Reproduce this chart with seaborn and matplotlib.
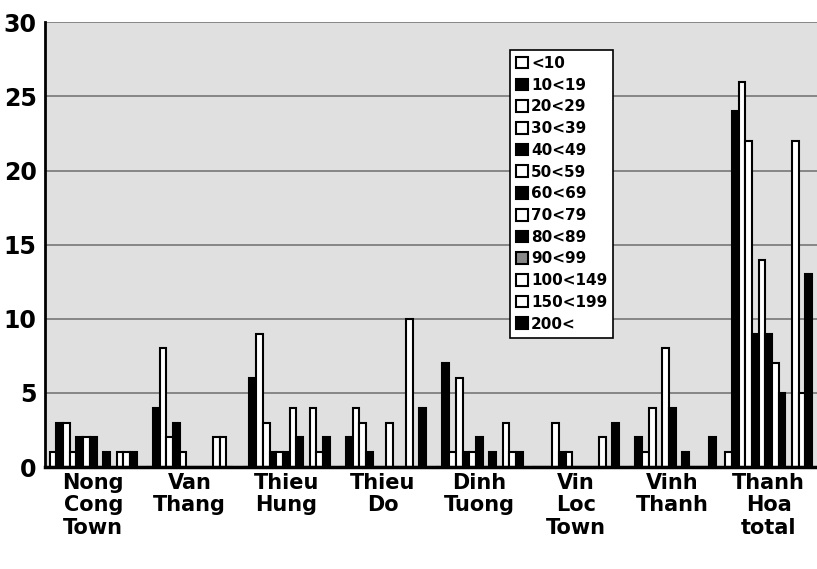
import numpy as np
import pandas as pd
import matplotlib
matplotlib.use("Agg")
import matplotlib.pyplot as plt
import seaborn as sns

places = ["Nong\nCong\nTown", "Van\nThang", "Thieu\nHung", "Thieu\nDo",
          "Dinh\nTuong", "Vin\nLoc\nTown", "Vinh\nThanh", "Thanh\nHoa\ntotal"]
sizes = ["<10", "10<19", "20<29", "30<39", "40<49", "50<59", "60<69",
         "70<79", "80<89", "90<99", "100<149", "150<199", "200<"]
fills = ["white", "black", "white", "white", "black", "white", "black",
         "white", "black", "#888888", "white", "white", "black"]

nong_cong = [1, 3, 3, 1, 2, 2, 2, 0, 1, 0, 1, 1, 1]
van_thang = [0, 4, 8, 2, 3, 1, 0, 0, 0, 0, 2, 2, 0]
thieu_hung = [0, 6, 9, 3, 1, 1, 1, 4, 2, 0, 4, 1, 2]
thieu_do = [0, 2, 4, 3, 1, 0, 0, 3, 0, 0, 10, 0, 4]
dinh_tuong = [0, 7, 1, 6, 1, 1, 2, 0, 1, 0, 3, 1, 1]
vin_loc = [0, 0, 0, 3, 1, 1, 0, 0, 0, 0, 2, 0, 3]
vinh_thanh = [0, 2, 1, 4, 0, 8, 4, 0, 1, 0, 0, 0, 2]
thanh_hoa = [1, 24, 26, 22, 9, 14, 9, 7, 5, 0, 22, 5, 13]

rows = [nong_cong, van_thang, thieu_hung, thieu_do,
        dinh_tuong, vin_loc, vinh_thanh, thanh_hoa]
df = pd.DataFrame(rows, index=places, columns=sizes)
long = df.reset_index().melt(id_vars="index", var_name="size", value_name="count")
long = long.rename(columns={"index": "place"})

sns.set_style("white")
plt.rcParams['font.family'] = ['DejaVu Sans']
plt.rcParams['text.color'] = 'black'
plt.rcParams['xtick.color'] = 'black'
plt.rcParams['ytick.color'] = 'black'

fig = plt.figure(figsize=(8.17, 5.69), dpi=100)
ax = fig.add_axes([0.055, 0.179, 0.945, 0.782])
ax.set_facecolor("#e0e0e0")

sns.barplot(data=long, x="place", y="count", hue="size", order=places,
            hue_order=sizes, palette=dict(zip(sizes, fills)),
            edgecolor="black", linewidth=1.5, width=0.9, ax=ax)

ax.set_ylim(0, 30)
ax.set_xlim(-0.5, 7.5)
ax.set_yticks([0, 5, 10, 15, 20, 25, 30])
ax.yaxis.grid(True, color="#777777", linewidth=1.2)
ax.set_axisbelow(True)
ax.set_xlabel("")
ax.set_ylabel("")
ax.tick_params(axis="y", labelsize=17, length=4, width=1.5, pad=2, colors="black")
ax.tick_params(axis="x", labelsize=15, length=0, pad=4, colors="black")
for lab in ax.get_xticklabels() + ax.get_yticklabels():
    lab.set_fontweight("bold")
for lab in ax.get_xticklabels():
    lab.set_verticalalignment("top")
    lab.set_linespacing(1.15)
for s in ["top", "right"]:
    ax.spines[s].set_visible(False)
ax.spines["left"].set_linewidth(2)
ax.spines["bottom"].set_linewidth(2.5)
ax.spines["left"].set_color("black")
ax.spines["bottom"].set_color("black")

leg = ax.legend(loc="upper left", bbox_to_anchor=(0.592, 0.955), frameon=True,
                fancybox=False, edgecolor="black", framealpha=1,
                prop={"weight": "bold", "size": 11}, handlelength=0.8,
                handleheight=0.8, handletextpad=0.2, labelspacing=0.44,
                borderpad=0.4)
leg.get_frame().set_linewidth(1.2)
for t in leg.get_texts():
    t.set_color("black")

fig.savefig("out.png", dpi=100)
